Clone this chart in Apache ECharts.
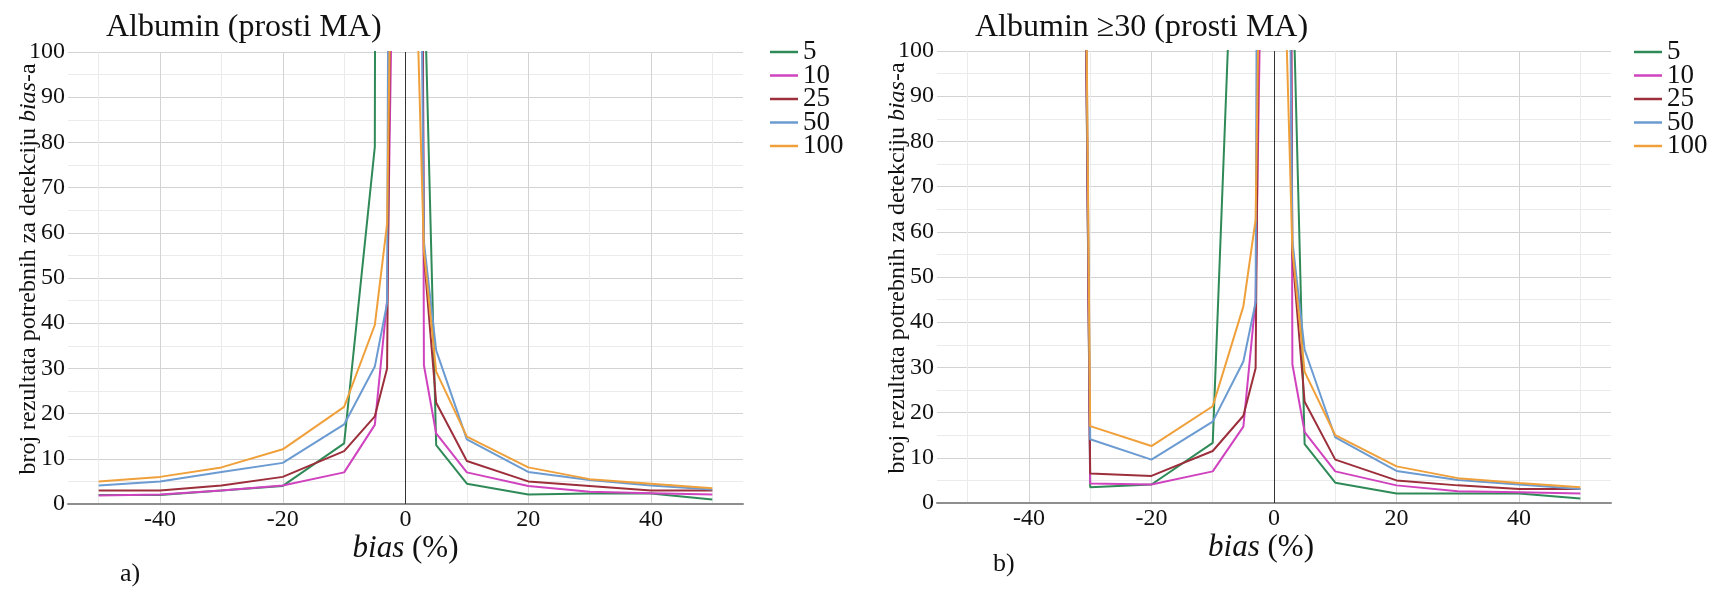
<!DOCTYPE html>
<html>
<head>
<meta charset="utf-8">
<script src="https://cdn.jsdelivr.net/npm/echarts@6/dist/echarts.min.js"></script>
<style>
html,body{margin:0;padding:0;background:#fff;}
#c{width:1713px;height:589px;}
</style>
</head>
<body>
<div id="c"></div>
<script>
// bias (%) positions
const biasX = [-50, -40, -30, -20, -10, -5, -3, -2, 2, 3, 5, 10, 20, 30, 40, 50];
const seriesNames = ['5', '10', '25', '50', '100'];
const seriesColors = ['#2f8a58', '#d043bf', '#9c2f3b', '#6b9bd1', '#f0a03a'];
const xTickLabels = [-40, -20, 0, 20, 40];
const yTickLabels = [0, 10, 20, 30, 40, 50, 60, 70, 80, 90, 100];

// a) Albumin (prosti MA)
const a5   = [2, 2, 3, 4, 13.4, 79, 1500, 3000, 3000, 120, 13, 4.5, 2.1, 2.3, 2.3, 1.0];
const a10  = [1.9, 2.1, 3, 4.1, 7, 17.5, 45, 131, 500, 30.7, 15.6, 7.0, 4.0, 2.7, 2.4, 2.1];
const a25  = [3, 3, 4.1, 6, 11.7, 19.4, 30, 193, 300, 55, 22.4, 9.5, 5.0, 4.0, 3.0, 3.0];
const a50  = [4.1, 5, 7.1, 9.1, 17.6, 30.4, 44.4, 417, 200, 58, 34, 14.3, 7.1, 5.3, 4.1, 3.2];
const a100 = [5, 6, 8.1, 12.1, 21.5, 39.6, 62, 157, 105, 56, 29.3, 14.9, 8.1, 5.5, 4.5, 3.5];

// b) Albumin >=30 (prosti MA)
const b5   = [1500, 1500, 3.5, 4.1, 13.3, 190, 1500, 3000, 3000, 120, 13, 4.5, 2.1, 2.1, 2.1, 1.0];
const b10  = [1500, 1500, 4.3, 4.1, 7.0, 16.9, 45, 131, 500, 30.7, 15.7, 7.0, 3.9, 2.6, 2.4, 2.1];
const b25  = [1500, 1500, 6.5, 6.0, 11.5, 19.3, 29.8, 193, 300, 55, 22.4, 9.6, 5.0, 3.9, 3.1, 3.1];
const b50  = [1500, 1500, 14.1, 9.6, 18.0, 31.3, 44.4, 417, 200, 58, 33.9, 14.5, 7.1, 5.1, 4.1, 3.1];
const b100 = [1500, 1500, 17.0, 12.6, 21.4, 43.5, 62.7, 157, 105, 56, 29, 15.0, 8.1, 5.5, 4.4, 3.5];

const titleA = 'Albumin (prosti MA)';
const titleB = 'Albumin \u226530 (prosti MA)';

const FONT = '"Liberation Serif", "Times New Roman", serif';
const chartA = [a5, a10, a25, a50, a100];
const chartB = [b5, b10, b25, b50, b100];

function txt(size, extra) {
  return Object.assign({ fontFamily: FONT, fontSize: size, fontWeight: 'normal', fontStyle: 'normal', color: '#111' }, extra || {});
}
function pairs(vals) { return biasX.map((x, i) => [x, vals[i]]); }

function makeX(idx, namePad) {
  return {
    gridIndex: idx, type: 'value', min: -55, max: 55, interval: 5,
    axisLine: { show: true, onZero: false, lineStyle: { color: '#8e8e8e', width: 2 } },
    axisTick: { show: false },
    axisLabel: Object.assign(txt(24), {
      margin: 4,
      formatter: v => xTickLabels.indexOf(v) >= 0 ? String(v) : ''
    }),
    splitLine: { show: true, lineStyle: { color: ['rgba(0,0,0,0)', '#ebebeb', 'rgba(0,0,0,0)', '#d3d3d3'], width: 1 } },
    name: '{i|bias} {n|(%)}', nameLocation: 'middle', nameGap: 29, nameMoveOverlap: false,
    nameTextStyle: Object.assign(txt(31), {
      padding: namePad,
      rich: { i: txt(31, { fontStyle: 'italic' }), n: txt(31) }
    })
  };
}
function makeY(idx) {
  return {
    gridIndex: idx, type: 'value', min: 0, max: 100, interval: 5,
    axisLine: { show: false },
    axisTick: { show: false },
    axisLabel: Object.assign(txt(24), {
      margin: 3,
      formatter: v => yTickLabels.indexOf(v) >= 0 ? String(v) : ''
    }),
    splitLine: { show: true, lineStyle: { color: ['#d3d3d3', '#ebebeb'], width: 1 } },
    name: '{n|broj rezultata potrebnih za detekciju }{i|bias}{n|-a}',
    nameLocation: 'middle', nameRotate: 90, nameGap: 27, nameMoveOverlap: false,
    nameTextStyle: Object.assign(txt(24), {
      padding: [0, 0, 0, 18],
      rich: { n: txt(24), i: txt(24, { fontStyle: 'italic' }) }
    })
  };
}
function makeSeries(data, gi) {
  return data.map((vals, k) => {
    const s = {
      name: seriesNames[k], type: 'line', xAxisIndex: gi, yAxisIndex: gi,
      data: pairs(vals), showSymbol: false, symbol: 'none', clip: true,
      color: seriesColors[k], lineStyle: { width: 2, color: seriesColors[k] },
      emphasis: { disabled: true }
    };
    if (k === 0) {
      s.markLine = {
        silent: true, symbol: 'none', label: { show: false },
        lineStyle: { color: '#333', width: 1, type: 'solid' },
        data: [{ xAxis: 0 }], animation: false
      };
    }
    return s;
  });
}
function makeLegend(left) {
  return {
    orient: 'vertical', left: left, top: 35, padding: 0,
    icon: 'rect', itemWidth: 28, itemHeight: 2.5, itemGap: -10.5,
    data: seriesNames,
    textStyle: txt(27, { lineHeight: 24, padding: [0, 0, 10, 0] })
  };
}

const chart = echarts.init(document.getElementById('c'), null, { renderer: 'canvas' });
chart.setOption({
  animation: false,
  backgroundColor: '#fff',
  textStyle: { fontFamily: FONT },
  title: [
    { text: titleA, left: 106, top: 12, padding: 0, textStyle: txt(32) },
    { text: titleB, left: 975, top: 12, padding: 0, textStyle: txt(32) }
  ],
  legend: [makeLegend(770), makeLegend(1634)],
  grid: [
    { left: 68, top: 52, width: 675, height: 452, outerBoundsMode: 'none', containLabel: false },
    { left: 937, top: 51, width: 674, height: 452, outerBoundsMode: 'none', containLabel: false }
  ],
  xAxis: [makeX(0, [0, 0, 0, 0]), makeX(1, [0, 26, 0, 0])],
  yAxis: [makeY(0), makeY(1)],
  series: makeSeries(chartA, 0).concat(makeSeries(chartB, 1)),
  graphic: [
    { type: 'text', left: 120, top: 561, style: { text: 'a)', font: '26px "Liberation Serif"', fill: '#111' } },
    { type: 'text', left: 993, top: 551, style: { text: 'b)', font: '26px "Liberation Serif"', fill: '#111' } }
  ]
});
</script>
</body>
</html>
